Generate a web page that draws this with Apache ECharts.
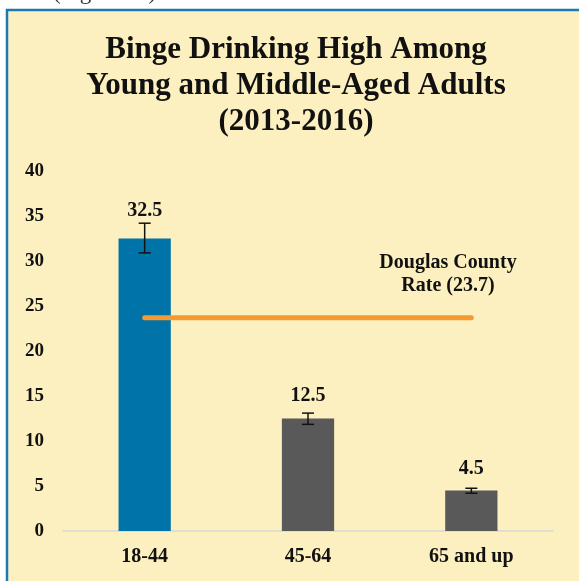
<!DOCTYPE html>
<html><head><meta charset="utf-8">
<script src="https://cdn.jsdelivr.net/npm/echarts@6/dist/echarts.min.js"></script>
<style>html,body{margin:0;padding:0;background:#fff;}#c{width:579px;height:581px;}</style>
</head><body><div id="c"></div>
<script>
const categories = ['18-44', '45-64', '65 and up'];
const values = [32.5, 12.5, 4.5];
const errLow = [30.9, 11.85, 4.2];
const errHigh = [34.2, 13.1, 4.75];
const countyRate = [23.7, 23.7, 23.7];
const barColors = ['#0073A8', '#595959', '#595959'];
const yTicks = [0, 5, 10, 15, 20, 25, 30, 35, 40];
const labelGaps = [18, 12.5, 11.5];

const serif = '"Liberation Serif", "DejaVu Serif", serif';
const chart = echarts.init(document.getElementById('c'));
chart.setOption({
  animation: false,
  backgroundColor: 'transparent',
  graphic: [
    { type: 'rect', z: -10, shape: { x: 7, y: 10, width: 620, height: 620 },
      style: { fill: '#FDF0C0', stroke: '#1A78B4', lineWidth: 2.5 } },
    { type: 'text', x: 53, y: 4, z: -20, style: { text: '(Figure 11)', font: '23px ' + serif, fill: '#333', verticalAlign: 'bottom' } },
    { type: 'text', x: 296, y: 32, style: { text: 'Binge Drinking High Among\nYoung and Middle-Aged Adults\n(2013-2016)',
      font: 'bold 31px ' + serif, fill: '#111', textAlign: 'center', lineHeight: 36 } },
    { type: 'text', x: 448, y: 251, style: { text: 'Douglas County\nRate (23.7)',
      font: 'bold 20px ' + serif, fill: '#111', textAlign: 'center', lineHeight: 23 } }
  ],
  grid: { left: 63, right: 26, top: 171, bottom: 50 },
  xAxis: {
    type: 'category', data: categories,
    axisLine: { lineStyle: { color: '#D6D6D6', width: 1.5 } },
    axisTick: { show: false },
    axisLabel: { color: '#111', fontFamily: serif, fontWeight: 'bold', fontSize: 20, margin: 16 }
  },
  yAxis: {
    type: 'value', min: 0, max: 40, interval: 5,
    splitLine: { show: false }, axisLine: { show: false }, axisTick: { show: false },
    axisLabel: { color: '#111', fontFamily: serif, fontWeight: 'bold', fontSize: 19, margin: 19,
      formatter: v => yTicks.includes(v) ? String(v) : '' }
  },
  series: [
    { type: 'bar', barWidth: '32%',
      data: values.map((v, i) => ({ value: v, itemStyle: { color: barColors[i] },
        label: { distance: labelGaps[i] } })),
      label: { show: true, position: 'top', color: '#111', fontFamily: serif, fontWeight: 'bold', fontSize: 20 }
    },
    { type: 'custom', z: 5,
      data: categories.map((c, i) => [i, errLow[i], errHigh[i]]),
      renderItem: function (params, api) {
        const lo = api.coord([api.value(0), api.value(1)]);
        const hi = api.coord([api.value(0), api.value(2)]);
        const w = 6;
        const st = { stroke: '#111', lineWidth: 1.5 };
        return { type: 'group', children: [
          { type: 'line', shape: { x1: lo[0], y1: lo[1], x2: hi[0], y2: hi[1] }, style: st },
          { type: 'line', shape: { x1: lo[0] - w, y1: lo[1], x2: lo[0] + w, y2: lo[1] }, style: st },
          { type: 'line', shape: { x1: hi[0] - w, y1: hi[1], x2: hi[0] + w, y2: hi[1] }, style: st }
        ] };
      }
    },
    { type: 'line', data: countyRate, symbol: 'none', z: 6,
      lineStyle: { color: '#F39A31', width: 5, cap: 'round' } }
  ]
});
</script></body></html>
